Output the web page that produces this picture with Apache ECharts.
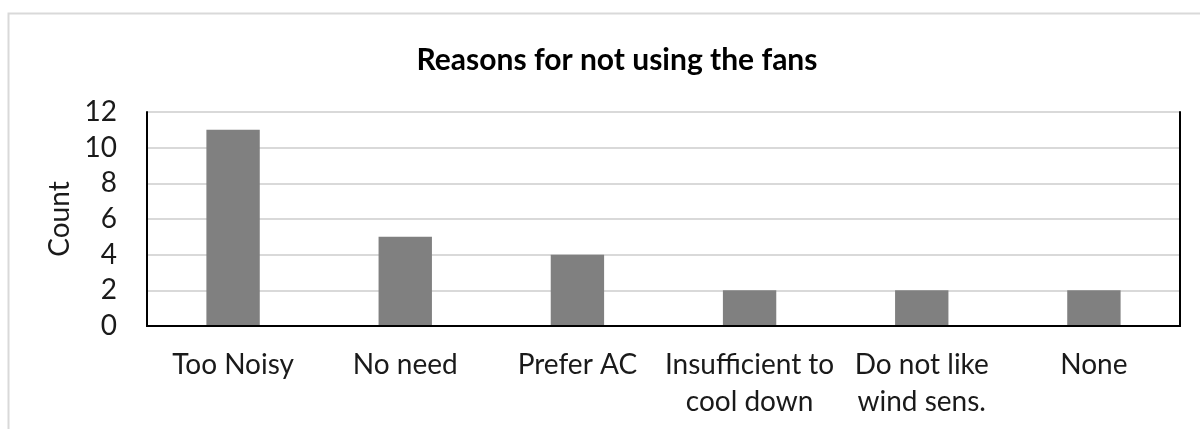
<!DOCTYPE html>
<html>
<head>
<meta charset="utf-8">
<script src="https://cdn.jsdelivr.net/npm/echarts@6/dist/echarts.min.js"></script>
<style>
  html, body { margin: 0; padding: 0; background: #fff; }
  #main { width: 1200px; height: 429px; }
</style>
</head>
<body>
<div id="main"></div>
<script>
// reasons and how many people gave them
const reasons = ['Too Noisy', 'No need', 'Prefer AC', 'Insufficient to\ncool down', 'Do not like\nwind sens.', 'None'];
const counts = [11, 5, 4, 2, 2, 2];
const yMax = 12;
const yStep = 2;

const chart = echarts.init(document.getElementById('main'));

const font = 'Lato, "Open Sans", sans-serif';
const black = { show: true, lineStyle: { color: '#000', width: 2 } };

chart.setOption({
  animation: false,
  backgroundColor: '#fff',
  title: {
    text: 'Reasons for not using the fans',
    left: 612,
    top: 40,
    textAlign: 'center',
    textStyle: { fontFamily: font, fontSize: 30, fontWeight: 'bold', color: '#000' }
  },
  graphic: [
    {
      type: 'rect',
      shape: { x: 8.5, y: 13.5, width: 1200, height: 430 },
      style: { fill: 'none', stroke: '#d9d9d9', lineWidth: 2 },
      silent: true
    }
  ],
  grid: { left: 147, right: 20, top: 112, height: 214 },
  xAxis: [
    {
      type: 'category',
      data: reasons,
      axisLine: black,
      axisTick: { show: false },
      axisLabel: {
        interval: 0,
        margin: 20,
        fontFamily: font,
        fontSize: 28,
        color: '#1a1a1a',
        lineHeight: 37,
        align: 'center'
      },
      z: 5
    },
    {
      type: 'category',
      position: 'top',
      data: reasons,
      axisLine: black,
      axisTick: { show: false },
      axisLabel: { show: false },
      z: 5
    }
  ],
  yAxis: [
    {
      type: 'value',
      min: 0,
      max: yMax,
      interval: yStep,
      name: 'Count',
      nameLocation: 'middle',
      nameGap: 72,
      nameTextStyle: { fontFamily: font, fontSize: 28, color: '#1a1a1a' },
      axisLine: black,
      axisTick: { show: false },
      axisLabel: { margin: 30, fontFamily: font, fontSize: 28, color: '#1a1a1a' },
      splitLine: { lineStyle: { color: '#d9d9d9', width: 2 } }
    },
    {
      type: 'value',
      position: 'right',
      min: 0,
      max: yMax,
      interval: yStep,
      axisLine: black,
      axisTick: { show: false },
      axisLabel: { show: false },
      splitLine: { show: false }
    }
  ],
  series: [
    {
      type: 'bar',
      data: counts,
      barWidth: '31%',
      itemStyle: { color: '#808080' }
    }
  ]
});
</script>
</body>
</html>
